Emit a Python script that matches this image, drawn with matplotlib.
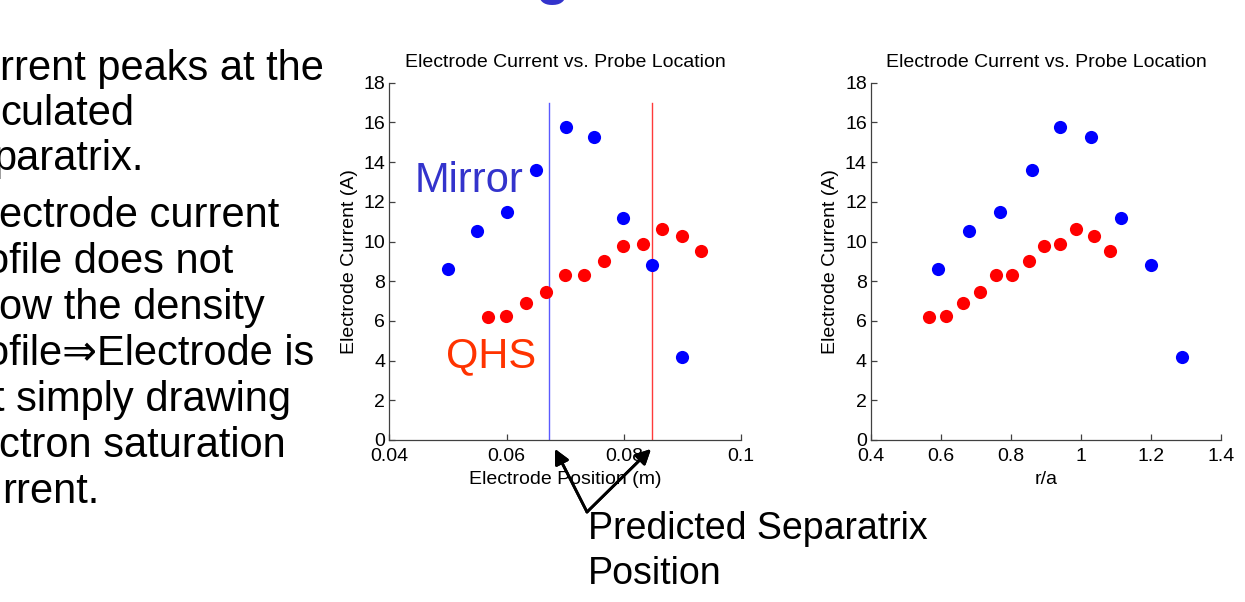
import numpy as np
import matplotlib
matplotlib.use("Agg")
from matplotlib import pyplot as plt

plt.rcParams['font.family'] = ['Liberation Sans', 'DejaVu Sans']

# Electrode current (A) for the two configurations
pos_mirror = [0.0500, 0.0550, 0.0600, 0.0651, 0.0701, 0.0749, 0.0799, 0.0849, 0.0899]
cur_mirror = [8.6, 10.55, 11.5, 13.6, 15.78, 15.25, 11.18, 8.83, 4.2]
pos_qhs = [0.0568, 0.0599, 0.0633, 0.0667, 0.0700, 0.0733, 0.0767, 0.0799, 0.0832,
           0.0865, 0.0899, 0.0932]
cur_qhs = [6.2, 6.25, 6.92, 7.44, 8.31, 8.31, 9.02, 9.79, 9.87, 10.61, 10.29, 9.52]

# normalised radius of the same probe positions
ra_mirror = [0.592, 0.681, 0.769, 0.860, 0.940, 1.029, 1.113, 1.201, 1.288]
ra_qhs = [0.565, 0.615, 0.663, 0.711, 0.758, 0.804, 0.851, 0.895, 0.940, 0.985,
          1.037, 1.082]

# predicted separatrix positions (m)
sep_mirror = 0.0672
sep_qhs = 0.0848
sep_top = 17

yticks = np.arange(0, 19, 2)
xticks_pos = [0.04, 0.06, 0.08, 0.1]
xlabels_pos = ['0.04', '0.06', '0.08', '0.1']
xticks_ra = [0.4, 0.6, 0.8, 1.0, 1.2, 1.4]
xlabels_ra = ['0.4', '0.6', '0.8', '1', '1.2', '1.4']

bullet_hidden = ["Cu", "cal", "se", "El", "pr", "foll", "pr", "no", "ele", "cu"]
bullet_shown = ["rrent peaks at the", "culated", "paratrix.", "ectrode current",
                "ofile does not", "ow the density", "ofile\u21D2Electrode is",
                "t simply drawing", "ctron saturation", "rrent."]

W, H = 1245, 602
fig = plt.figure(figsize=(W / 100, H / 100), dpi=100)


def px(x, y):
    return x / W, 1 - y / H


def setup(ax, xticks, xlabels, xlim, xlabel):
    ax.set_xlim(*xlim)
    ax.set_ylim(0, 18)
    ax.set_xticks(xticks)
    ax.set_xticklabels(xlabels)
    ax.set_yticks(yticks)
    ax.spines['top'].set_visible(False)
    ax.spines['right'].set_visible(False)
    for s in ('left', 'bottom'):
        ax.spines[s].set_color('#404040')
        ax.spines[s].set_linewidth(0.9)
    ax.tick_params(direction='in', length=4, width=0.9, color='#404040',
                   labelsize=14, pad=6)
    ax.tick_params(axis='y', pad=3)
    ax.set_title('Electrode Current vs. Probe Location', fontsize=14, pad=11)
    ax.set_xlabel(xlabel, fontsize=14, labelpad=4)
    ax.set_ylabel('Electrode Current (A)', fontsize=14, labelpad=4)


ax1 = fig.add_axes([389.3 / W, 162 / H, 351.7 / W, 357.3 / H])
ax1.plot([sep_mirror, sep_mirror], [0, sep_top], color='#5a5aff', lw=1)
ax1.plot([sep_qhs, sep_qhs], [0, sep_top], color='#ff3a3a', lw=1)
ax1.scatter(pos_mirror, cur_mirror, s=90, color='#0000ff', zorder=3, linewidths=0)
ax1.scatter(pos_qhs, cur_qhs, s=90, color='#ff0000', zorder=3, linewidths=0)
setup(ax1, xticks_pos, xlabels_pos, (0.04, 0.1), 'Electrode Position (m)')

ax2 = fig.add_axes([871 / W, 162 / H, 350 / W, 357.3 / H])
ax2.scatter(ra_mirror, cur_mirror, s=90, color='#0000ff', zorder=3, linewidths=0)
ax2.scatter(ra_qhs, cur_qhs, s=90, color='#ff0000', zorder=3, linewidths=0)
setup(ax2, xticks_ra, xlabels_ra, (0.4, 1.4), 'r/a')

# series labels
fig.text(*px(415, 192), 'Mirror', fontsize=30, color='#3333cc', va='baseline')
fig.text(*px(446, 367), 'QHS', fontsize=30, color='#ff3300', va='baseline')

# bullet text running off the left edge
line_x = [0, 0, -7, -1, -14, -1, -14, -7, -1, 2]
line_y = [80, 125, 170, 227, 273, 319, 365, 411, 457, 503]
for hid, shown, x, y in zip(bullet_hidden, bullet_shown, line_x, line_y):
    fig.text(*px(x, y), hid, fontsize=30, ha='right', va='baseline')
    fig.text(*px(x, y), shown, fontsize=30, ha='left', va='baseline')

# slide heading, mostly above the top edge
fig.text(*px(536, -7), 'g', fontsize=40, fontweight='bold', color='#3333cc',
         va='baseline')

# separatrix callout
fig.text(*px(588, 539), 'Predicted Separatrix', fontsize=27, va='baseline')
fig.text(*px(588, 584), 'Position', fontsize=27, va='baseline')
for head in [(555, 449), (651, 449)]:
    fig.add_artist(plt.annotate('', xy=px(*head), xycoords='figure fraction',
                                xytext=px(587, 512), textcoords='figure fraction',
                                arrowprops=dict(arrowstyle='-|>', lw=2, color='k',
                                                mutation_scale=22, shrinkA=0,
                                                shrinkB=0)))

fig.savefig('out.png', dpi=100)
